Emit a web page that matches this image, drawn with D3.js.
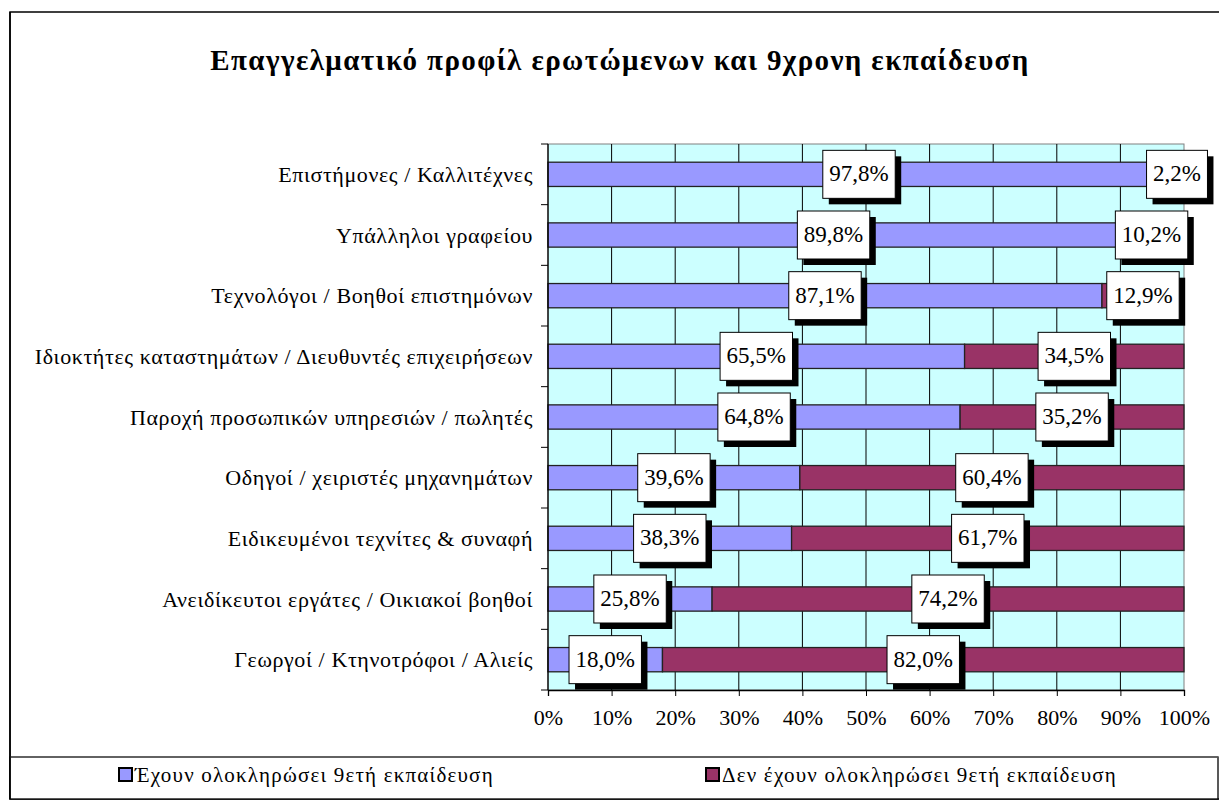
<!DOCTYPE html>
<html>
<head>
<meta charset="utf-8">
<script src="https://cdn.jsdelivr.net/npm/d3@7"></script>
</head>
<body style="margin:0">
<svg id="chart" width="1219" height="802" style="display:block"></svg>
<script>
const title = "Επαγγελματικό προφίλ ερωτώμενων και 9χρονη εκπαίδευση";
const categories = [
  "Επιστήμονες / Καλλιτέχνες",
  "Υπάλληλοι γραφείου",
  "Τεχνολόγοι / Βοηθοί επιστημόνων",
  "Ιδιοκτήτες καταστημάτων / Διευθυντές επιχειρήσεων",
  "Παροχή προσωπικών υπηρεσιών / πωλητές",
  "Οδηγοί / χειριστές μηχανημάτων",
  "Ειδικευμένοι τεχνίτες & συναφή",
  "Ανειδίκευτοι εργάτες / Οικιακοί βοηθοί",
  "Γεωργοί / Κτηνοτρόφοι / Αλιείς"
];
const seriesNames = ["Έχουν ολοκληρώσει 9ετή εκπαίδευση", "Δεν έχουν ολοκληρώσει 9ετή εκπαίδευση"];
const completed    = [97.8, 89.8, 87.1, 65.5, 64.8, 39.6, 38.3, 25.8, 18.0];
const notCompleted = [2.2, 10.2, 12.9, 34.5, 35.2, 60.4, 61.7, 74.2, 82.0];
const xTicks = [0, 10, 20, 30, 40, 50, 60, 70, 80, 90, 100];
const colors = ["#9999FF", "#993366"];

const svg = d3.select("#chart").attr("font-family", "Liberation Serif")
  .style("font-family", '"Liberation Serif"', "important");
const fmt = v => v.toFixed(1).replace(".", ",") + "%";
const setFont = (sel, size, weight, spacing) => {
  sel.attr("font-family", "Liberation Serif").attr("font-size", size)
    .style("font-family", '"Liberation Serif"', "important");
  if (weight) sel.attr("font-weight", weight);
  if (spacing) sel.attr("letter-spacing", spacing);
  return sel;
};

// outer chart frame
svg.append("rect").attr("x", 10).attr("y", 12).attr("width", 1230).attr("height", 787)
  .attr("fill", "#fff").attr("stroke", "#000").attr("stroke-width", 1.5);

// title
setFont(svg.append("text").attr("x", 620).attr("y", 70).attr("text-anchor", "middle"), 29, "bold", 1.4).text(title);

const plot = { left: 548, right: 1184, top: 144, bottom: 690 };
const x = d3.scaleLinear().domain([0, 100]).range([plot.left, plot.right]);
const y = d3.scaleBand().domain(categories).range([plot.top, plot.bottom]).paddingInner(0.6).paddingOuter(0.3);
const yb = d3.scaleBand().domain(categories).range([plot.top, plot.bottom]);

// plot background
svg.append("rect").attr("x", plot.left).attr("y", plot.top)
  .attr("width", plot.right - plot.left).attr("height", plot.bottom - plot.top)
  .attr("fill", "#CCFFFF").attr("stroke", "#808080").attr("stroke-width", 1);

// vertical gridlines
svg.append("g").selectAll("line").data(xTicks.slice(1, -1)).join("line")
  .attr("x1", d => x(d)).attr("x2", d => x(d))
  .attr("y1", plot.top).attr("y2", plot.bottom)
  .attr("stroke", "#000").attr("stroke-width", 1);

// stacked bars
const stackData = categories.map((c, i) => ({ cat: c, a: completed[i], b: notCompleted[i] }));
const stack = d3.stack().keys(["a", "b"])(stackData);
const barG = svg.append("g");
stack.forEach((layer, k) => {
  barG.selectAll(null).data(layer).join("rect")
    .attr("x", d => x(d[0]))
    .attr("y", d => y(d.data.cat))
    .attr("width", d => Math.max(0, x(d[1]) - x(d[0])))
    .attr("height", y.bandwidth())
    .attr("fill", colors[k])
    .attr("stroke", "#222").attr("stroke-width", 1.3);
});

// axes
const xAxis = d3.axisBottom(x).tickValues(xTicks).tickFormat(d => d + "%").tickSize(6).tickPadding(13);
const gx = svg.append("g").attr("transform", `translate(0,${plot.bottom})`).call(xAxis);
gx.attr("font-family", "Liberation Serif").attr("font-size", 22);
gx.select(".domain").attr("stroke", "#000").attr("stroke-width", 1.3);
gx.selectAll(".tick line").attr("stroke", "#000");
setFont(gx.selectAll(".tick text").attr("fill", "#000"), 22);

// left axis line and ticks at band boundaries
svg.append("line").attr("x1", plot.left).attr("x2", plot.left)
  .attr("y1", plot.top).attr("y2", plot.bottom).attr("stroke", "#000").attr("stroke-width", 1.3);
const boundaries = categories.map(c => yb(c)).concat([plot.bottom]);
svg.append("g").selectAll("line").data(boundaries).join("line")
  .attr("x1", plot.left - 7).attr("x2", plot.left)
  .attr("y1", d => d).attr("y2", d => d).attr("stroke", "#000");

// category labels
setFont(svg.append("g").selectAll("text").data(categories).join("text")
  .attr("x", plot.left - 15).attr("y", d => yb(d) + yb.bandwidth() / 2)
  .attr("dy", "0.35em").attr("text-anchor", "end"), 22, null, 0.6).text(d => d);

// data labels
const labG = svg.append("g");
stack.forEach((layer, k) => {
  layer.forEach(d => {
    const cx = x((d[0] + d[1]) / 2);
    const cy = y(d.data.cat) + y.bandwidth() / 2;
    const g = labG.append("g");
    const t = setFont(g.append("text").attr("x", cx).attr("y", cy - 1).attr("dy", "0.35em")
      .attr("text-anchor", "middle"), 23).text(fmt(d[1] - d[0]));
    const w = t.node().getComputedTextLength() + 13;
    const h = 48;
    g.insert("rect", "text").attr("x", cx - w / 2 + 6).attr("y", cy - h / 2 + 6)
      .attr("width", w).attr("height", h).attr("fill", "#000");
    g.insert("rect", "text").attr("x", cx - w / 2).attr("y", cy - h / 2)
      .attr("width", w).attr("height", h).attr("fill", "#fff").attr("stroke", "#000").attr("stroke-width", 1);
  });
});

// legend
svg.append("rect").attr("x", 10).attr("y", 757).attr("width", 1208).attr("height", 42)
  .attr("fill", "#fff").attr("stroke", "#000").attr("stroke-width", 1.3);
svg.append("line").attr("x1", 10).attr("x2", 1218).attr("y1", 757).attr("y2", 757)
  .attr("stroke", "#666").attr("stroke-width", 1.3);
svg.append("line").attr("x1", 10).attr("x2", 10).attr("y1", 12).attr("y2", 799)
  .attr("stroke", "#000").attr("stroke-width", 1.5);
const legendX = [119, 706];
const lg = svg.append("g").selectAll("g").data(seriesNames).join("g")
  .attr("transform", (d, i) => `translate(${legendX[i]},768)`);
lg.append("rect").attr("width", 13).attr("height", 13)
  .attr("fill", (d, i) => colors[i]).attr("stroke", "#000").attr("stroke-width", 2);
setFont(lg.append("text").attr("x", 16).attr("y", 7).attr("dy", "0.35em"), 21, null, 1.2).text(d => d);
</script>
</body>
</html>
